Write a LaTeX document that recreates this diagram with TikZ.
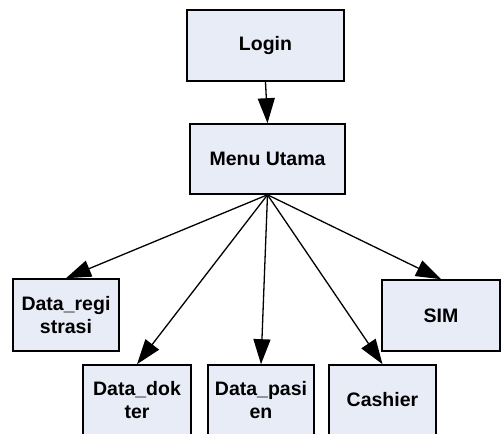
\documentclass[tikz,border=0pt]{standalone}
\usepackage{fontspec}
\setmainfont{Liberation Sans}
\usetikzlibrary{arrows.meta}
\definecolor{kotakfill}{RGB}{231,236,247}
\tikzset{
	kotak/.style={draw=black, line width=1.6pt, fill=kotakfill, align=center,
		inner sep=0pt, font=\fontsize{19.5}{23}\selectfont\bfseries},
	panah/.style={line width=1.3pt, -{Triangle[length=25pt,width=17pt]}}
}
\newcommand{\kotak}[5]{\node[kotak, minimum width=#3pt, minimum height=#4pt] (#1) at (#2) {#5};}

\begin{document}
\begin{tikzpicture}[x=1pt, y=-1pt]
	\useasboundingbox (0,0) rectangle (501,434);
	\clip (0,0) rectangle (501,434);

	\kotak{login}{265.5,45.5}{157}{71}{Login}
	\kotak{menu}{267.5,159}{155}{70}{Menu Utama}

	\kotak{registrasi}{66,315}{106}{72}{Data\_regi\\strasi}
	\kotak{sim}{441,315.5}{118}{71}{SIM}

	\kotak{dokter}{137,400}{108}{70}{Data\_dok\\ter}
	\kotak{pasien}{261,400}{106}{70}{Data\_pasi\\en}
	\kotak{cashier}{382.5,400}{107}{70}{Cashier}

	\draw[panah] (login.south) -- (menu.north);
	\foreach \tujuan in {registrasi, dokter, pasien, cashier, sim}
		\draw[panah] (menu.south) -- (\tujuan.north);
\end{tikzpicture}
\end{document}
